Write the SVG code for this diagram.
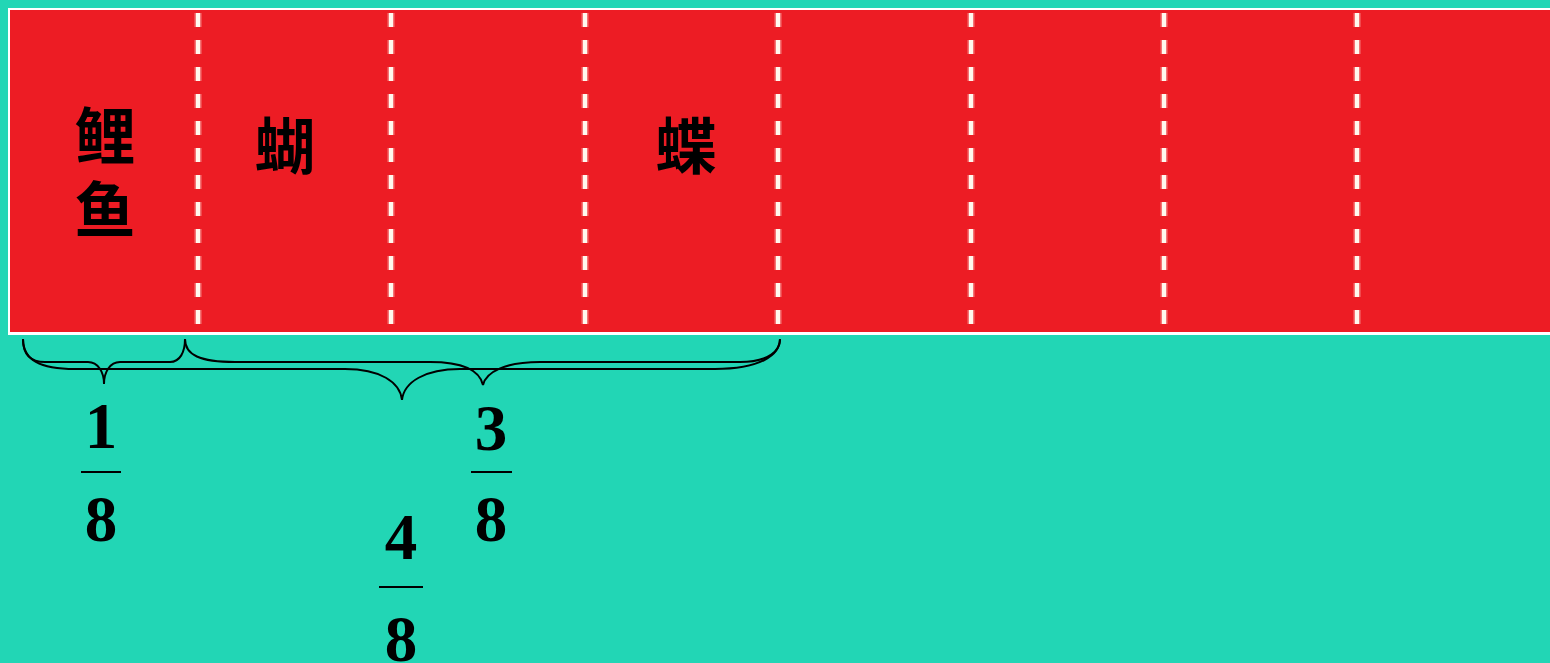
<svg xmlns="http://www.w3.org/2000/svg" width="1550" height="663" viewBox="0 0 1550 663">
<defs>
<style>
.cjk{font-family:"Noto Sans CJK SC","Noto Sans CJK TC",sans-serif;font-weight:bold;font-size:61px;fill:#000;text-anchor:middle}
.num{font-family:"Liberation Serif",serif;font-weight:bold;font-size:65px;fill:#000;text-anchor:middle}
.bar{stroke:#000;stroke-width:2}
.dash{stroke:#FFF8EE;stroke-width:4.5;stroke-dasharray:14 13}
.glow{stroke:#F68080;stroke-width:8;stroke-dasharray:14 13;opacity:0.45}
.brace{fill:none;stroke:#000;stroke-width:2}
</style>
</defs>
<rect x="0" y="0" width="1550" height="663" fill="#22D6B5"/>
<g id="strip">
<rect x="8" y="8" width="1550" height="327" fill="#FFFFFF"/>
<rect x="10" y="10" width="1550" height="322" fill="#ED1C24"/>
<g id="dividers">
<line class="glow" x1="198" y1="13" x2="198" y2="330"/>
<line class="dash" x1="198" y1="13" x2="198" y2="330"/>
<line class="glow" x1="391" y1="13" x2="391" y2="330"/>
<line class="dash" x1="391" y1="13" x2="391" y2="330"/>
<line class="glow" x1="585" y1="13" x2="585" y2="330"/>
<line class="dash" x1="585" y1="13" x2="585" y2="330"/>
<line class="glow" x1="778" y1="13" x2="778" y2="330"/>
<line class="dash" x1="778" y1="13" x2="778" y2="330"/>
<line class="glow" x1="971" y1="13" x2="971" y2="330"/>
<line class="dash" x1="971" y1="13" x2="971" y2="330"/>
<line class="glow" x1="1164" y1="13" x2="1164" y2="330"/>
<line class="dash" x1="1164" y1="13" x2="1164" y2="330"/>
<line class="glow" x1="1357" y1="13" x2="1357" y2="330"/>
<line class="dash" x1="1357" y1="13" x2="1357" y2="330"/>
</g>
</g>
<g id="label-carp">
<text class="cjk" x="105" y="159">鲤</text>
<text class="cjk" x="105" y="233">鱼</text>
</g>
<g id="label-hu">
<text class="cjk" x="285" y="169">蝴</text>
</g>
<g id="label-die">
<text class="cjk" x="686" y="169">蝶</text>
</g>
<g id="connectors">
<path class="brace" d="M23,339 C23,354 30,362 45,362 L88,362 C98,362 104,372 104,384 C104,372 110,362 120,362 L170,362 C180,362 185,352 185,339"/>
<path class="brace" d="M185,339 C185,355 200,362 235,362 L430,362 C465,362 480,372 483,385 C486,372 505,362 540,362 L740,362 C770,362 780,350 780,339"/>
<path class="brace" d="M23,339 C23,360 40,369 75,369 L345,369 C380,369 400,382 402,400 C404,382 425,369 460,369 L715,369 C760,369 780,355 780,339"/>
</g>
<g id="frac-1-8">
<text class="num" x="101" y="448">1</text>
<line class="bar" x1="81" y1="472" x2="121" y2="472"/>
<text class="num" x="101" y="541">8</text>
</g>
<g id="frac-3-8">
<text class="num" x="491" y="450">3</text>
<line class="bar" x1="471" y1="472" x2="512" y2="472"/>
<text class="num" x="491" y="541">8</text>
</g>
<g id="frac-4-8">
<text class="num" x="401" y="559">4</text>
<line class="bar" x1="379" y1="587" x2="423" y2="587"/>
<text class="num" x="401" y="661">8</text>
</g>
</svg>
